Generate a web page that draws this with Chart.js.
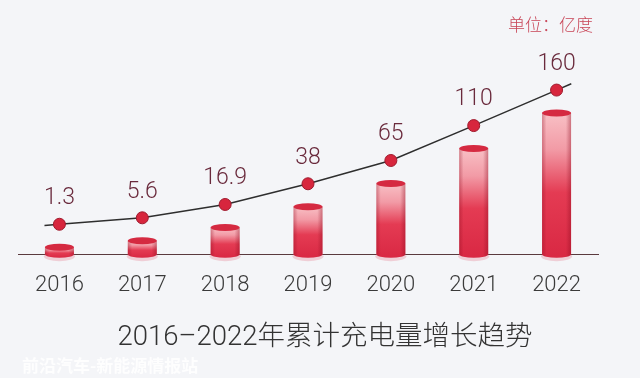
<!DOCTYPE html>
<html>
<head>
<meta charset="utf-8">
<script src="https://cdn.jsdelivr.net/npm/chart.js@4.4.0/dist/chart.umd.min.js"></script>
<style>
    html, body { margin: 0; padding: 0; background: #f4f5f8; }
    #wrap { width: 640px; height: 378px; }
</style>
</head>
<body>
<div id="wrap"><canvas id="chargeChart" width="640" height="378"></canvas></div>
<script>
// 数据
var years = ['2016', '2017', '2018', '2019', '2020', '2021', '2022'];
var chargeVolume = [1.3, 5.6, 16.9, 38, 65, 110, 160];
var unitLabel = '单位：亿度';
var chartTitle = '2016–2022年累计充电量增长趋势';
var watermark = '前沿汽车-新能源情报站';

var numFont = 'Roboto, "Liberation Sans", "Noto Sans CJK SC", sans-serif';

// 原图的柱高不是线性的，用一个幂次刻度近似
var EXP = 0.8;
function fwd(v) { return Math.sign(v) * Math.pow(Math.abs(v), EXP); }
function inv(t) { return Math.sign(t) * Math.pow(Math.abs(t), 1 / EXP); }

class PowerScale extends Chart.LinearScale {
    getPixelForValue(value) {
        if (value === null || value === undefined) return NaN;
        var a = fwd(this.min), b = fwd(this.max);
        return this.getPixelForDecimal((fwd(value) - a) / (b - a));
    }
    getValueForPixel(pixel) {
        var a = fwd(this.min), b = fwd(this.max);
        return inv(a + this.getDecimalForPixel(pixel) * (b - a));
    }
}
PowerScale.id = 'power';
PowerScale.defaults = Chart.LinearScale.defaults;
Chart.register(PowerScale);

// 背景
var bgPlugin = {
    id: 'bg',
    beforeDraw: function(chart) {
        var ctx = chart.ctx;
        ctx.save();
        ctx.fillStyle = '#f4f5f8';
        ctx.fillRect(0, 0, chart.width, chart.height);
        ctx.restore();
    }
};

// 圆柱
var cylinderPlugin = {
    id: 'cylinders',
    beforeDatasetsDraw: function(chart) {
        var ctx = chart.ctx;
        chart.getDatasetMeta(0).data.forEach(function(bar) {
            var x = bar.x, top = bar.y, base = bar.base, rx = bar.width / 2, ry = 3.5;
            ctx.save();
            ctx.fillStyle = 'rgba(232,160,172,0.45)';
            ctx.beginPath();
            ctx.ellipse(x, base + 2, rx + 1, ry + 1.5, 0, 0, Math.PI * 2);
            ctx.fill();

            function body() {
                ctx.beginPath();
                ctx.moveTo(x - rx, top);
                ctx.lineTo(x - rx, base);
                ctx.ellipse(x, base, rx, ry, 0, Math.PI, 0, true);
                ctx.lineTo(x + rx, top);
                ctx.closePath();
            }
            var g = ctx.createLinearGradient(0, top, 0, base + ry);
            g.addColorStop(0, '#f8c0c5');
            g.addColorStop(0.25, '#f29ba6');
            g.addColorStop(0.55, '#e43b53');
            g.addColorStop(1, '#d92843');
            ctx.fillStyle = g;
            body();
            ctx.fill();

            var h = ctx.createLinearGradient(x - rx, 0, x + rx, 0);
            h.addColorStop(0, 'rgba(140,10,30,0.35)');
            h.addColorStop(0.15, 'rgba(140,10,30,0)');
            h.addColorStop(0.82, 'rgba(140,10,30,0)');
            h.addColorStop(1, 'rgba(140,10,30,0.4)');
            ctx.fillStyle = h;
            body();
            ctx.fill();

            ctx.fillStyle = '#d52a41';
            ctx.beginPath();
            ctx.ellipse(x, top, rx, ry, 0, 0, Math.PI * 2);
            ctx.fill();
            ctx.restore();
        });
    }
};

// 折线两端延长 + 数值标签 + 单位 + 标题
var decoPlugin = {
    id: 'deco',
    beforeDatasetDraw: function(chart, args) {
        if (args.index !== 1) return;
        var pts = chart.getDatasetMeta(1).data;
        var ctx = chart.ctx;
        function ext(p, q, len) {
            var dx = p.x - q.x, dy = p.y - q.y, d = Math.sqrt(dx * dx + dy * dy);
            ctx.beginPath();
            ctx.moveTo(p.x, p.y);
            ctx.lineTo(p.x + dx / d * len, p.y + dy / d * len);
            ctx.stroke();
        }
        ctx.save();
        ctx.strokeStyle = '#2e2e2e';
        ctx.lineWidth = 1.5;
        ext(pts[0], pts[1], 15);
        ext(pts[pts.length - 1], pts[pts.length - 2], 16);
        ctx.restore();
    },
    afterDatasetsDraw: function(chart) {
        var ctx = chart.ctx;
        ctx.save();
        ctx.font = '300 23px ' + numFont;
        ctx.fillStyle = '#6a2a3c';
        ctx.textAlign = 'center';
        ctx.textBaseline = 'middle';
        chart.getDatasetMeta(1).data.forEach(function(p, i) {
            ctx.fillText(String(chargeVolume[i]), p.x, p.y - 26);
        });
        ctx.restore();
    },
    afterDraw: function(chart) {
        var ctx = chart.ctx;
        ctx.save();
        ctx.font = '300 17px "Noto Sans CJK SC", sans-serif';
        ctx.fillStyle = '#c84557';
        ctx.textAlign = 'right';
        ctx.textBaseline = 'middle';
        ctx.fillText(unitLabel, 593, 25);

        ctx.font = '300 27.5px ' + numFont;
        ctx.fillStyle = '#333333';
        ctx.textAlign = 'center';
        ctx.fillText(chartTitle, 325, 338);

        ctx.font = 'bold 17px "Noto Sans CJK SC", sans-serif';
        ctx.fillStyle = 'rgba(255,255,255,0.85)';
        ctx.textAlign = 'left';
        ctx.fillText(watermark, 22, 366);
        ctx.restore();
    }
};

var ctx = document.getElementById('chargeChart').getContext('2d');
var chargeChart = new Chart(ctx, {
    type: 'bar',
    data: {
        labels: years,
        datasets: [{
            type: 'bar',
            data: chargeVolume,
            yAxisID: 'y',
            base: -1.93,
            backgroundColor: 'rgba(0,0,0,0)',
            barThickness: 29,
            order: 2
        }, {
            type: 'line',
            data: chargeVolume,
            yAxisID: 'y2',
            borderColor: '#2e2e2e',
            borderWidth: 1.5,
            tension: 0,
            pointRadius: 6,
            pointBackgroundColor: '#d7263d',
            pointBorderColor: '#a01b2e',
            pointBorderWidth: 1,
            order: 1
        }]
    },
    options: {
        responsive: false,
        animation: false,
        devicePixelRatio: 1,
        layout: { padding: { top: 40, left: 18, right: 42, bottom: 61.4 } },
        plugins: {
            legend: { display: false },
            tooltip: { enabled: false },
            title: { display: false }
        },
        scales: {
            x: {
                grid: { display: false, drawTicks: false },
                border: { display: true, color: '#5a3a3e', width: 1 },
                ticks: {
                    color: '#3a3a3a',
                    padding: 18,
                    font: { family: numFont, size: 22, weight: 300 }
                }
            },
            y: { type: 'power', display: false, min: -1.93, max: 272.8 },
            y2: { type: 'power', display: false, min: -21, max: 236.1 }
        }
    },
    plugins: [bgPlugin, cylinderPlugin, decoPlugin]
});
</script>
</body>
</html>
